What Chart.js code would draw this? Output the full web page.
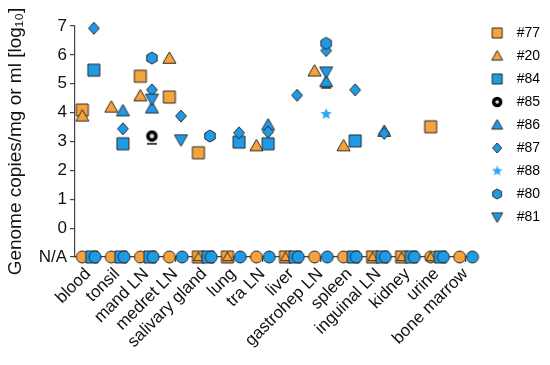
<!DOCTYPE html>
<html>
<head>
<meta charset="utf-8">
<script src="https://cdn.jsdelivr.net/npm/chart.js@4.4.1/dist/chart.umd.min.js"></script>
<style>
  html, body { margin: 0; padding: 0; background: #fff; }
</style>
</head>
<body>
<canvas id="c" width="550" height="365"></canvas>
<script>
// categories on the x axis
const categories = ['blood', 'tonsil', 'mand LN', 'medret LN', 'salivary gland', 'lung', 'tra LN',
  'liver', 'gastrohep LN', 'spleen', 'inguinal LN', 'kidney', 'urine', 'bone marrow'];
const yTicks = [-1, 0, 1, 2, 3, 4, 5, 6, 7];
const NA = -1; // "N/A" row

// values per animal (log10), null = not plotted
const a77 = [4.09, null, 5.26, 4.54, 2.61, null, null, null, null, null, null, null, 3.51, null];
const a20 = [3.88, 4.19, 4.58, 5.88, null, null, 2.85, null, 5.44, 2.85, null, null, null, null];
const a84 = [5.47, 2.92, null, null, null, 2.98, 2.92, null, null, 3.02, null, null, null, null];
const a85 = [null, null, 3.19, null, null, null, null, null, null, null, null, null, null, null];
const a86 = [null, 4.06, 4.16, null, null, null, 3.57, null, 5.07, null, 3.35, null, null, null];
const a87 = [6.92, 3.44, 4.79, 3.88, null, 3.30, 3.33, 4.60, 6.15, 4.79, 3.28, null, null, null];
const a88 = [null, null, null, null, null, null, null, null, 3.95, null, null, null, null, null];
const a80 = [null, null, 5.89, null, 3.19, null, null, null, 6.40, null, null, null, null, null];
const a81 = [null, null, 4.47, 3.06, null, null, null, null, 5.41, null, null, null, null, null];
const dashes = [null, null, 2.92, null, null, null, null, null, 4.86, null, null, null, null, null];

// which markers sit on the N/A row (1 = present)
const naOrangeCircle = [1, 1, 1, 1, 0, 0, 1, 0, 1, 1, 0, 0, 1, 1];
const naOrangeSquare = [0, 0, 0, 0, 1, 1, 0, 1, 0, 0, 1, 1, 0, 0];
const naOrangeTri    = [0, 0, 0, 0, 1, 1, 0, 1, 0, 0, 1, 1, 1, 0];
const naBlueSquare   = [1, 1, 1, 0, 1, 0, 0, 1, 0, 1, 1, 1, 1, 0];
const naBlueCircle   = [1, 1, 1, 1, 1, 1, 1, 1, 1, 1, 1, 1, 1, 1];

const ORANGE = '#f6a33d';
const BLUE = '#1f9be6';
const STAR = '#2aa9f2';
const EDGE = '#2a2a2a';

function marker(shape, size, fill, edge) {
  const pad = 3;
  const cv = document.createElement('canvas');
  cv.width = cv.height = size + pad * 2;
  const g = cv.getContext('2d');
  const c = cv.width / 2, r = size / 2;
  g.beginPath();
  if (shape === 'square') {
    g.rect(c - r, c - r, size, size);
  } else if (shape === 'circle') {
    g.arc(c, c, r, 0, Math.PI * 2);
  } else if (shape === 'up') {
    g.moveTo(c, c - r); g.lineTo(c + r, c + r * 0.75); g.lineTo(c - r, c + r * 0.75); g.closePath();
  } else if (shape === 'down') {
    g.moveTo(c, c + r); g.lineTo(c + r, c - r * 0.75); g.lineTo(c - r, c - r * 0.75); g.closePath();
  } else if (shape === 'diamond') {
    g.moveTo(c, c - r); g.lineTo(c + r * 0.9, c); g.lineTo(c, c + r); g.lineTo(c - r * 0.9, c); g.closePath();
  } else if (shape === 'hex') {
    for (let k = 0; k < 6; k++) {
      const t = Math.PI / 6 + k * Math.PI / 3;
      g.lineTo(c + r * Math.cos(t), c + r * Math.sin(t));
    }
    g.closePath();
  } else if (shape === 'star') {
    for (let k = 0; k < 10; k++) {
      const t = -Math.PI / 2 + k * Math.PI / 5;
      const rr = k % 2 ? r * 0.45 : r;
      g.lineTo(c + rr * Math.cos(t), c + rr * Math.sin(t));
    }
    g.closePath();
  } else if (shape === 'ring') {
    g.arc(c, c, r - 1.5, 0, Math.PI * 2);
  } else if (shape === 'dash') {
    g.moveTo(c - r, c); g.lineTo(c + r, c);
    g.strokeStyle = edge; g.lineWidth = 2; g.stroke();
    return cv;
  }
  g.fillStyle = fill;
  g.fill();
  if (shape === 'ring') {
    g.strokeStyle = '#000'; g.lineWidth = 3.5; g.stroke();
  } else if (edge) {
    g.strokeStyle = edge; g.lineWidth = 1; g.stroke();
  }
  return cv;
}

const animals = [
  { name: '#77', vals: a77, shape: 'square', size: 12, lsize: 10, fill: ORANGE, edge: EDGE, dx: -0.2 },
  { name: '#20', vals: a20, shape: 'up', size: 13, lsize: 11, fill: ORANGE, edge: EDGE, dx: -0.2 },
  { name: '#84', vals: a84, shape: 'square', size: 12, lsize: 10, fill: BLUE, edge: EDGE, dx: 0.2 },
  { name: '#85', vals: a85, shape: 'ring', size: 11, lsize: 10, fill: '#e6e6e6', edge: '#000', dx: 0.2 },
  { name: '#86', vals: a86, shape: 'up', size: 13, lsize: 11, fill: BLUE, edge: EDGE, dx: 0.2 },
  { name: '#87', vals: a87, shape: 'diamond', size: 12, lsize: 10, fill: BLUE, edge: EDGE, dx: 0.2 },
  { name: '#88', vals: a88, shape: 'star', size: 12, lsize: 11, fill: STAR, edge: null, dx: 0.2 },
  { name: '#80', vals: a80, shape: 'hex', size: 12, lsize: 10, fill: BLUE, edge: EDGE, dx: 0.2 },
  { name: '#81', vals: a81, shape: 'down', size: 13, lsize: 11, fill: BLUE, edge: EDGE, dx: 0.2 }
];

function pts(vals, dx) {
  const out = [];
  vals.forEach((v, i) => { if (v !== null) out.push({ x: i + dx, y: v }); });
  return out;
}
function naPts(flags, dx) {
  const out = [];
  flags.forEach((f, i) => { if (f) out.push({ x: i + dx, y: NA }); });
  return out;
}

const datasets = [];
animals.forEach((a, i) => {
  a.icon = marker(a.shape, a.size, a.fill, a.edge);
  a.legendIcon = marker(a.shape, a.lsize, a.fill, a.edge);
  datasets.push({ label: a.name, data: pts(a.vals, a.dx), pointStyle: a.icon, order: 20 - i });
});
datasets.push({ label: 'dash', data: pts(dashes, 0.2), pointStyle: marker('dash', 10, null, '#444'), order: 30 });
datasets.push({ label: 'na-oc', data: naPts(naOrangeCircle, -0.2), pointStyle: marker('circle', 12, ORANGE, EDGE), order: 6 });
datasets.push({ label: 'na-os', data: naPts(naOrangeSquare, -0.2), pointStyle: marker('square', 12, ORANGE, EDGE), order: 5 });
datasets.push({ label: 'na-ot', data: naPts(naOrangeTri, -0.2), pointStyle: marker('up', 10, ORANGE, EDGE), order: 4 });
datasets.push({ label: 'na-bs', data: naPts(naBlueSquare, 0.13), pointStyle: marker('square', 12, BLUE, EDGE), order: 3 });
datasets.push({ label: 'na-bc', data: naPts(naBlueCircle, 0.24), pointStyle: marker('circle', 12, BLUE, EDGE), order: 2 });
datasets.forEach(d => { d.pointRadius = 6; d.clip = false; d.showLine = false; });

const FONT = "'Liberation Sans', Arial, sans-serif";

// lift the legend a little above the plot top, as in the original figure
const legendLift = {
  id: 'legendLift',
  afterLayout(chart) {
    chart.legend.top -= 9;
    chart.legend.bottom -= 9;
  }
};

new Chart(document.getElementById('c'), {
  type: 'scatter',
  data: { datasets },
  plugins: [legendLift],
  options: {
    responsive: false,
    animation: false,
    layout: { padding: { top: 26, right: 0, bottom: 2, left: 4 } },
    plugins: {
      tooltip: { enabled: false },
      legend: {
        position: 'right',
        align: 'start',
        labels: {
          usePointStyle: true,
          pointStyleWidth: 25,
          boxWidth: 25,
          boxHeight: 12,
          padding: 9,
          color: '#111',
          font: { family: FONT, size: 14 },
          generateLabels: () => animals.map((a, i) => ({
            text: a.name, pointStyle: a.legendIcon, datasetIndex: i,
            fillStyle: 'transparent', strokeStyle: 'transparent', lineWidth: 0, hidden: false
          }))
        }
      }
    },
    scales: {
      x: {
        type: 'linear',
        min: -0.45,
        max: 13.35,
        afterBuildTicks: s => { s.ticks = categories.map((c, i) => ({ value: i })); },
        afterFit: s => { s.height = 106; },
        grid: { display: true, drawOnChartArea: false, drawTicks: true, tickLength: 5, color: '#444', lineWidth: 1.2 },
        border: { display: true, color: '#444', width: 1.2 },
        ticks: {
          autoSkip: false, minRotation: 45, maxRotation: 45, padding: 2,
          color: '#111', font: { family: FONT, size: 17 },
          callback: v => categories[v]
        }
      },
      y: {
        min: -1,
        max: 7,
        afterBuildTicks: s => { s.ticks = yTicks.map(v => ({ value: v })); },
        afterFit: s => { s.width = 71; },
        grid: { display: true, drawOnChartArea: false, drawTicks: true, tickLength: 5, color: '#444', lineWidth: 1.2 },
        border: { display: true, color: '#444', width: 1.2 },
        ticks: {
          padding: 3, color: '#111', font: { family: FONT, size: 17 },
          callback: v => v === NA ? 'N/A' : String(v)
        },
        title: {
          display: true, text: 'Genome copies/mg or ml [log\u2081\u2080]',
          color: '#111', font: { family: FONT, size: 19 }, padding: 0
        }
      }
    }
  }
});
</script>
</body>
</html>
